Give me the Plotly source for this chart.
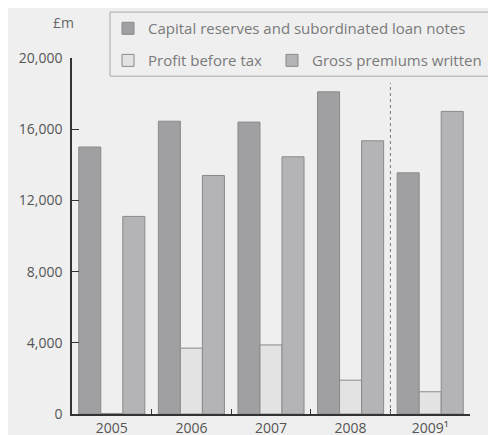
import plotly.graph_objects as go

years = ["2005", "2006", "2007", "2008", "2009¹"]
capital = [15000, 16450, 16400, 18100, 13550]
profit = [30, 3700, 3880, 1900, 1250]
gross = [11100, 13400, 14450, 15350, 17000]
y_ticks = [0, 4000, 8000, 12000, 16000, 20000]
y_labels = ["0", "4,000", "8,000", "12,000", "16,000", "20,000"]
forecast_split = 3.5
forecast_line_top = 18600

bg = "#efefef"
font_family = "Open Sans, Lato, sans-serif"

fig = go.Figure()
fig.add_bar(x=years, y=capital, name="Capital reserves and subordinated loan notes",
            legend="legend",
            marker=dict(color="#a0a0a3", line=dict(color="#8a8a8c", width=1)))
fig.add_bar(x=years, y=profit, name="Profit before tax", legend="legend2",
            marker=dict(color="#e3e3e3", line=dict(color="#8a8a8c", width=1)))
fig.add_bar(x=years, y=gross, name="Gross premiums written", legend="legend3",
            marker=dict(color="#b4b4b7", line=dict(color="#8a8a8c", width=1)))

fig.add_shape(type="line", xref="x", yref="y", x0=forecast_split, x1=forecast_split,
              y0=0, y1=forecast_line_top, line=dict(color="#777777", width=1, dash="dot"))

# legend frame around the legend rows
fig.add_shape(type="rect", xref="paper", yref="paper", x0=0.0955, x1=1.0578,
              y0=0.949, y1=1.129, line=dict(color="#a8a8a8", width=1),
              fillcolor="rgba(0,0,0,0)", layer="above")

fig.add_annotation(text="£m", xref="paper", yref="paper", x=-0.0226, y=1.101,
                   xanchor="center", yanchor="middle", showarrow=False,
                   font=dict(size=14, color="#666666", family=font_family))

legend_common = dict(orientation="h", xanchor="left", yanchor="top",
                     bgcolor="rgba(0,0,0,0)", borderwidth=0,
                     font=dict(size=15, color="#7a7a7a", family=font_family),
                     traceorder="normal")

fig.update_layout(
    width=496, height=435,
    margin=dict(l=64, r=34, t=50, b=29, autoexpand=False),
    paper_bgcolor=bg, plot_bgcolor=bg,
    barmode="group", bargap=0.17, bargroupgap=0,
    font=dict(family=font_family, color="#666666", size=14),
    showlegend=True,
    legend=dict(x=0.0905, y=1.129, **legend_common),
    legend2=dict(x=0.0905, y=1.039, **legend_common),
    legend3=dict(x=0.5025, y=1.039, **legend_common),
    xaxis=dict(type="category", range=[-0.5, 4.5], showline=True, linecolor="#333333",
               linewidth=1.5, ticks="inside", tickson="boundaries", ticklen=5,
               tickcolor="#333333", showgrid=False, zeroline=False, automargin=False,
               tickfont=dict(size=14, color="#555555")),
    yaxis=dict(range=[0, 20000], tickvals=y_ticks, ticktext=y_labels, showline=True,
               linecolor="#333333", linewidth=1.5, ticks="inside", ticklen=7,
               tickcolor="#333333", showgrid=False, zeroline=False, automargin=False,
               ticklabelstandoff=5,
               tickfont=dict(size=14, color="#555555")),
)

fig.write_html("out.html")
